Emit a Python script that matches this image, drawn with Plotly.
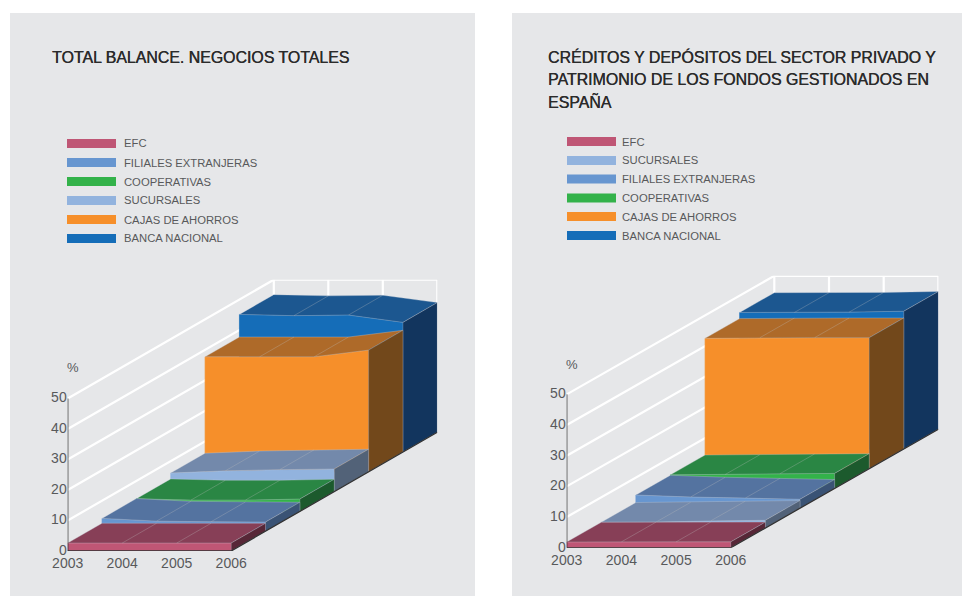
import plotly.graph_objects as go

# ---- data -------------------------------------------------------------
years = [2003, 2004, 2005, 2006]
y_ticks = [0, 10, 20, 30, 40, 50]

left_title = ["TOTAL BALANCE. NEGOCIOS TOTALES"]
left_names = ["EFC", "FILIALES EXTRANJERAS", "COOPERATIVAS", "SUCURSALES",
              "CAJAS DE AHORROS", "BANCA NACIONAL"]
left_efc = [2.6, 2.6, 2.6, 2.6]
left_filiales = [4.2, 3.3, 3.1, 3.0]
left_cooperativas = [4.15, 3.7, 3.7, 4.05]
left_sucursales = [6.1, 6.8, 7.2, 7.4]
left_cajas = [37.7, 37.7, 37.7, 39.9]
left_banca = [45.1, 44.7, 44.9, 42.5]

right_title = ["CRÉDITOS Y DEPÓSITOS DEL SECTOR PRIVADO Y",
               "PATRIMONIO DE LOS FONDOS GESTIONADOS EN",
               "ESPAÑA"]
right_names = ["EFC", "SUCURSALES", "FILIALES EXTRANJERAS", "COOPERATIVAS",
               "CAJAS DE AHORROS", "BANCA NACIONAL"]
right_efc = [1.85, 1.9, 1.9, 1.9]
right_sucursales = [1.85, 1.9, 2.3, 2.5]
right_filiales = [4.3, 3.65, 3.3, 2.9]
right_cooperativas = [4.45, 4.55, 4.8, 4.9]
right_cajas = [42.5, 42.7, 42.7, 42.7]
right_banca = [44.5, 44.5, 44.6, 44.9]

# front, top and side shades of each series
shades = {
    "EFC": ("#BF5675", "#873F57", "#572737"),
    "FILIALES EXTRANJERAS": ("#6796D0", "#5473A0", "#3A5375"),
    "COOPERATIVAS": ("#33B24A", "#2A8644", "#1C5A2D"),
    "SUCURSALES": ("#92B3DE", "#7389AB", "#526278"),
    "CAJAS DE AHORROS": ("#F68F2A", "#AE6A29", "#72481B"),
    "BANCA NACIONAL": ("#156DB8", "#1C5790", "#12355E"),
}

PAGE_W, PAGE_H = 962, 596
PANEL_COLOR = "#E6E7E9"
TEXT_COLOR = "#58595B"
FONT = "Liberation Sans"
SERIES_COUNT = 6

panels = [
    dict(suffix="", names=left_names,
         values=[left_efc, left_filiales, left_cooperativas,
                 left_sucursales, left_cajas, left_banca],
         title=left_title, title_x=50, title_y=57,
         box=(10, 13, 475, 596),
         x0=67.7, y0=551.0, px_year=54.5, px_unit=3.05,
         depth_px=(34.35, 19.8),
         swatch_x=67, text_x=121.5,
         rows=[143.5, 162.5, 181.5, 200.5, 219.5, 238.5],
         percent=(73, 367.7)),
    dict(suffix="2", names=right_names,
         values=[right_efc, right_sucursales, right_filiales,
                 right_cooperativas, right_cajas, right_banca],
         title=right_title, title_x=546, title_y=57,
         box=(512, 13, 962, 596),
         x0=566.7, y0=547.7, px_year=54.7, px_unit=3.067,
         depth_px=(34.6, 19.75),
         swatch_x=567, text_x=620,
         rows=[141.5, 160.5, 179.0, 198.0, 216.5, 235.5],
         percent=(572, 364)),
]

fig = go.Figure()
shapes, annotations = [], []
layout_axes = {}


def polygon(xs, ys, fill, edge, axes):
    fig.add_trace(go.Scatter(
        x=xs + xs[:1], y=ys + ys[:1], mode="lines", fill="toself",
        fillcolor=fill, line=dict(color=edge, width=0.7),
        hoverinfo="skip", showlegend=False, cliponaxis=False, **axes))


def segment(xs, ys, color, width, axes):
    fig.add_trace(go.Scatter(
        x=xs, y=ys, mode="lines", line=dict(color=color, width=width),
        hoverinfo="skip", showlegend=False, cliponaxis=False, **axes))


for p in panels:
    axes = dict(xaxis="x" + p["suffix"], yaxis="y" + p["suffix"])
    # one depth slot expressed in years along x and in % along y
    dx = p["depth_px"][0] / p["px_year"]
    dy = p["depth_px"][1] / p["px_unit"]

    def at(year, value, depth):
        return year + depth * dx, value + depth * dy

    first, last = years[0], years[-1]

    # panel background
    x0, y0, x1, y1 = p["box"]
    shapes.append(dict(type="rect", xref="paper", yref="paper", layer="below",
                       x0=x0 / PAGE_W, x1=x1 / PAGE_W,
                       y0=1 - y1 / PAGE_H, y1=1 - y0 / PAGE_H,
                       fillcolor=PANEL_COLOR, line=dict(width=0)))

    # white grid on the side wall and on the back wall
    for v in y_ticks[1:]:
        a, b = at(first, v, 0), at(first, v, SERIES_COUNT)
        c = at(last, v, SERIES_COUNT)
        segment([a[0], b[0], c[0]], [a[1], b[1], c[1]], "#FFFFFF", 2.2, axes)
    for yr in years:
        a, b = at(yr, 0, SERIES_COUNT), at(yr, y_ticks[-1], SERIES_COUNT)
        segment([a[0], b[0]], [a[1], b[1]], "#FFFFFF", 2.2, axes)

    # layers painted from the back to the front
    for depth in reversed(range(SERIES_COUNT)):
        name, vals = p["names"][depth], p["values"][depth]
        front, top, side = shades[name]

        pts = [at(y, v, depth) for y, v in zip(years, vals)]
        base = [at(last, 0, depth), at(first, 0, depth)]
        polygon([q[0] for q in pts + base], [q[1] for q in pts + base],
                front, front, axes)

        back = [at(y, v, depth + 1) for y, v in zip(years, vals)]
        ring = pts + back[::-1]
        polygon([q[0] for q in ring], [q[1] for q in ring],
                top, "rgba(205,210,220,0.45)", axes)

        end = [at(last, vals[-1], depth), at(last, vals[-1], depth + 1),
               at(last, 0, depth + 1), at(last, 0, depth)]
        polygon([q[0] for q in end], [q[1] for q in end],
                side, "rgba(190,195,205,0.4)", axes)

        # faint year lines across the top face
        for y, v in zip(years[1:-1], vals[1:-1]):
            a, b = at(y, v, depth), at(y, v, depth + 1)
            segment([a[0], b[0]], [a[1], b[1]], "rgba(190,190,190,0.5)", 0.6, axes)

    # axis lines: height axis, front edge and the receding floor edge
    segment([first, first], [0, y_ticks[-1]], "#333333", 1.3, axes)
    a = at(last, 0, SERIES_COUNT)
    segment([first, last, a[0]], [0, 0, a[1]], "#333333", 1.3, axes)

    # plotting area sized so that one year and one % unit keep their pixel scale
    x_span = (last - first) + SERIES_COUNT * dx
    y_span = y_ticks[-1] + SERIES_COUNT * dy
    layout_axes["xaxis" + p["suffix"]] = dict(
        domain=[p["x0"] / PAGE_W, (p["x0"] + x_span * p["px_year"]) / PAGE_W],
        range=[first, first + x_span], anchor="y" + p["suffix"],
        showgrid=False, zeroline=False, showline=False, ticks="",
        automargin=False, ticklabelstandoff=2,
        tickmode="array", tickvals=years, ticktext=[str(y) for y in years],
        tickfont=dict(family=FONT, size=14, color=TEXT_COLOR))
    layout_axes["yaxis" + p["suffix"]] = dict(
        domain=[1 - p["y0"] / PAGE_H,
                1 - (p["y0"] - y_span * p["px_unit"]) / PAGE_H],
        range=[0, y_span], anchor="x" + p["suffix"],
        showgrid=False, zeroline=False, showline=False, ticks="",
        automargin=False, ticklabelshift=-1,
        tickmode="array", tickvals=y_ticks, ticktext=[str(v) for v in y_ticks],
        tickfont=dict(family=FONT, size=14, color=TEXT_COLOR))

    # title, one annotation per line
    for i, line in enumerate(p["title"]):
        annotations.append(dict(
            xref="paper", yref="paper", x=p["title_x"] / PAGE_W,
            y=1 - (p["title_y"] + 22 * i) / PAGE_H, text=line, showarrow=False,
            xanchor="left", yanchor="middle", align="left",
            font=dict(family=FONT, size=15.9, color="#2B2B2B",
                      shadow="0.35px 0 0 #2B2B2B")))

    # hand-built key with wide swatches
    for name, row in zip(p["names"], p["rows"]):
        shapes.append(dict(type="rect", xref="paper", yref="paper",
                           x0=p["swatch_x"] / PAGE_W, x1=(p["swatch_x"] + 49) / PAGE_W,
                           y0=1 - (row + 4.5) / PAGE_H, y1=1 - (row - 4.5) / PAGE_H,
                           fillcolor=shades[name][0], line=dict(width=0)))
        annotations.append(dict(
            xref="paper", yref="paper", x=p["text_x"] / PAGE_W,
            y=1 - row / PAGE_H, text=name, showarrow=False,
            xanchor="left", yanchor="middle",
            font=dict(family=FONT, size=11.25, color=TEXT_COLOR)))

    # unit label above the height axis
    annotations.append(dict(
        xref="paper", yref="paper", x=p["percent"][0] / PAGE_W,
        y=1 - p["percent"][1] / PAGE_H, text="%", showarrow=False,
        xanchor="center", yanchor="middle",
        font=dict(family=FONT, size=13, color=TEXT_COLOR)))

fig.update_layout(
    width=PAGE_W, height=PAGE_H, autosize=False,
    margin=dict(l=0, r=0, t=0, b=0, pad=0, autoexpand=False),
    paper_bgcolor="#FFFFFF", plot_bgcolor="rgba(0,0,0,0)",
    showlegend=False, shapes=shapes, annotations=annotations,
    **layout_axes)

fig.write_html("out.html", config=dict(displayModeBar=False))
